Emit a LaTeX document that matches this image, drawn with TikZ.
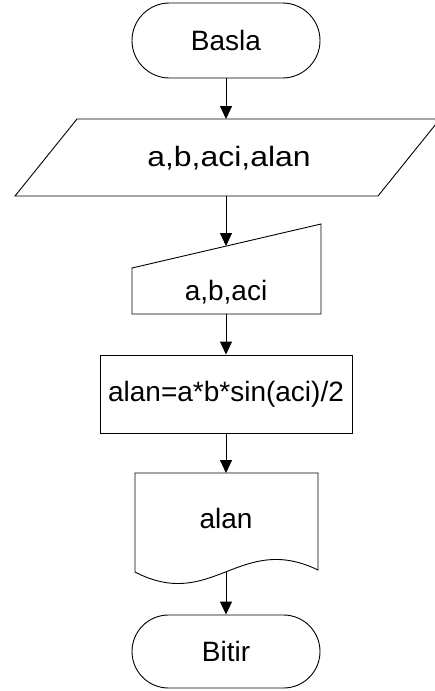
\documentclass[tikz,border=0pt]{standalone}
\usepackage{fontspec}
\usepackage{graphicx}
\setmainfont{Liberation Sans}
\usetikzlibrary{arrows.meta,shapes.misc}
\begin{document}
\begin{tikzpicture}[x=1pt,y=-1pt,
  every node/.style={font=\fontsize{28}{34}\selectfont, inner sep=0pt},
  shapeline/.style={draw=black, line width=0.9pt},
  term/.style={shapeline, rounded rectangle, minimum width=188pt, minimum height=75pt},
  procbox/.style={shapeline, rectangle, minimum width=252pt, minimum height=78pt},
  flow/.style={draw=black, line width=0.9pt, -{Triangle[length=13pt,width=12pt]}}]
\useasboundingbox (0,0) rectangle (434,691);
% start
\node[term] (start) at (226,40.5) {Basla};
% input/output parallelogram
\draw[shapeline] (77,119) -- (440,119) -- (378,196) -- (15,196) -- cycle;
\node (io) at (229,158) {\scalebox{1.14}[1]{a,b,aci,alan}};
\coordinate (iotop) at (226,119);
\coordinate (iobot) at (226,196);
% manual input
\draw[shapeline] (132,268) -- (321,224) -- (321,314) -- (132,314) -- cycle;
\node (mi) at (226,292) {a,b,aci};
\coordinate (mitop) at (226,246);
\coordinate (mibot) at (226,314);
% process
\node[procbox] (proc) at (226,394) {alan=a*b*sin(aci)/2};
% document
\draw[shapeline] (135,572) -- (135,473) -- (318,473) -- (318,570)
  .. controls (240,532) and (212,612) .. (135,572);
\node (doc) at (226,518) {alan};
\coordinate (doctop) at (226,473);
\coordinate (docbot) at (226,572);
% end
\node[term] (stop) at (226,651.5) [minimum height=73pt] {Bitir};
% connectors
\draw[flow] (start.south) -- (iotop);
\draw[flow] (iobot) -- (mitop);
\draw[flow] (mibot) -- (proc.north);
\draw[flow] (proc.south) -- (doctop);
\draw[flow] (docbot) -- (stop.north);
\end{tikzpicture}
\end{document}
